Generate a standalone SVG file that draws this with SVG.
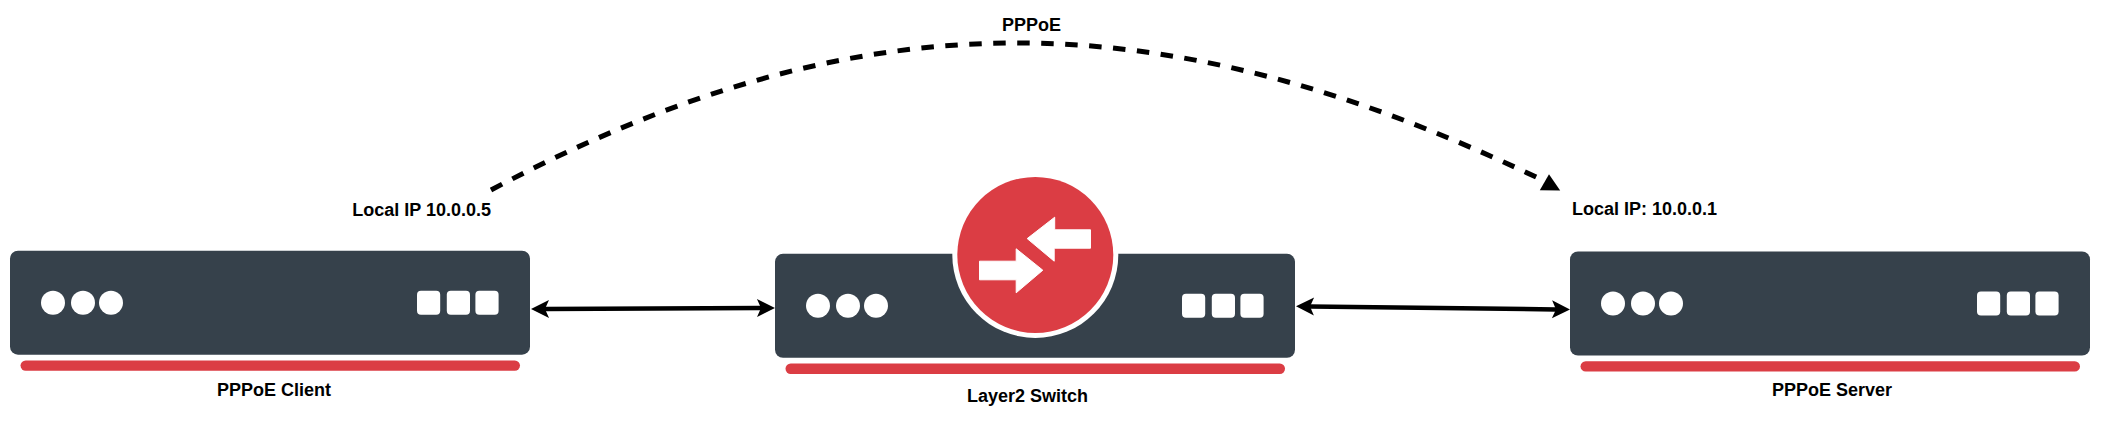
<svg xmlns="http://www.w3.org/2000/svg" width="2101" height="430" viewBox="0 0 2101 430">
<style>
.body{fill:#36414b}
.bar{fill:#db3d44}
.led{fill:#fff}
.lbl{font-family:"Liberation Sans",Arial,sans-serif;font-weight:bold;font-size:18px;fill:#000}
.link{fill:none;stroke:#000;stroke-width:4.5}
.dash{stroke-width:5;stroke-dasharray:12.5 11.5}
.glyph{fill:#fff;stroke:#fff;stroke-width:1;stroke-linejoin:round}
</style>
<defs>
<marker id="head" markerUnits="userSpaceOnUse" markerWidth="20" markerHeight="22" refX="4" refY="10" orient="auto-start-reverse" overflow="visible">
<path d="M0,1 L18,10 L0,19 L4,10 Z" fill="#000"/>
</marker>
<g id="device">
<rect class="body" x="0" y="0" width="520" height="104" rx="8"/>
<rect class="bar" x="10.5" y="109.7" width="499.5" height="10.4" rx="5.2"/>
<circle class="led" cx="43" cy="52" r="12"/>
<circle class="led" cx="73" cy="52" r="12"/>
<circle class="led" cx="101" cy="52" r="12"/>
<rect class="led" x="407" y="40" width="23.2" height="24" rx="4"/>
<rect class="led" x="436.8" y="40" width="23.2" height="24" rx="4"/>
<rect class="led" x="465.4" y="40" width="23.2" height="24" rx="4"/>
</g>
</defs>
<g id="connectors">
<path class="link" d="M545,309 L761,308" marker-start="url(#head)" marker-end="url(#head)"/>
<path class="link" d="M1310,306.4 L1556,309.4" marker-start="url(#head)" marker-end="url(#head)"/>
<path class="link dash" d="M491,190 C857,-4 1157,-4 1538,178"/>
<polygon points="1549,174.3 1539.8,190.2 1560.2,190.6" fill="#000"/>
</g>
<g id="pppoe-client">
<use href="#device" x="10" y="250.7"/>
<text class="lbl" x="274" y="395.5" text-anchor="middle">PPPoE Client</text>
<text class="lbl" x="421.6" y="215.5" text-anchor="middle">Local IP 10.0.0.5</text>
</g>
<g id="layer2-switch">
<use href="#device" x="775" y="253.8"/>
<circle cx="1035.3" cy="254.9" r="83" fill="#fff"/>
<circle cx="1035.3" cy="254.9" r="78" class="bar"/>
<path class="glyph" d="M1090.5,229.8 L1054.7,229.8 L1054.7,217.2 L1027.2,238.6 L1054.2,261.2 L1054.2,248.2 L1090.5,248.2 Z"/>
<path class="glyph" d="M979.5,261.2 L1016.2,261.2 L1016.2,248.8 L1042.8,270.2 L1016.2,292.8 L1016.2,279.8 L979.5,279.8 Z"/>
<text class="lbl" x="1027.5" y="401.5" text-anchor="middle">Layer2 Switch</text>
</g>
<g id="pppoe-server">
<use href="#device" x="1570" y="251.5"/>
<text class="lbl" x="1832" y="395.5" text-anchor="middle">PPPoE Server</text>
<text class="lbl" x="1644.5" y="215" text-anchor="middle">Local IP: 10.0.0.1</text>
</g>
<g id="pppoe-label">
<text class="lbl" x="1031.5" y="30.5" text-anchor="middle">PPPoE</text>
</g>
</svg>
